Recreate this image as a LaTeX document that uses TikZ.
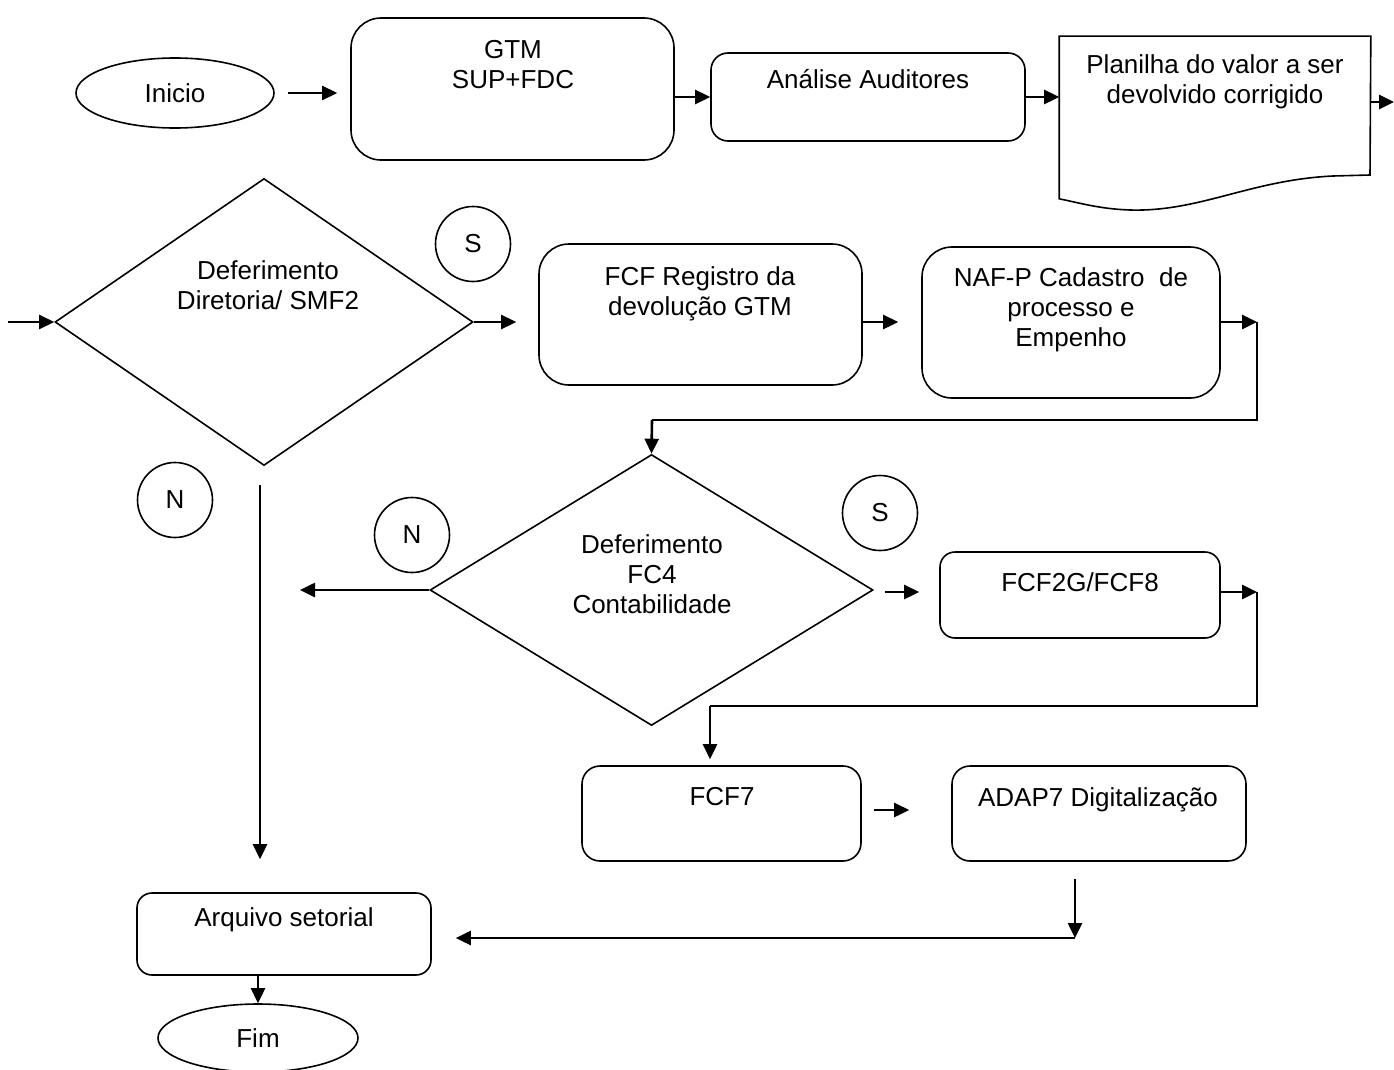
\documentclass[tikz,border=0pt]{standalone}
\usepackage{fontspec}
\setmainfont{Liberation Sans}
\usetikzlibrary{shapes.geometric,arrows.meta}
\tikzset{
  outl/.style={draw, line width=1.6pt},
  box/.style={outl, rectangle, inner sep=0pt},
  oval/.style={outl, ellipse, inner sep=0pt, font=\fontsize{26}{30}\selectfont},
  circ/.style={outl, circle, inner sep=0pt, minimum size=75pt, font=\fontsize{26}{30}\selectfont},
  dia/.style={outl, diamond, inner sep=0pt},
  txt/.style={font=\fontsize{26}{30}\selectfont, align=center, anchor=north, inner sep=0pt},
  arr/.style={line width=2.6pt, -{Triangle[length=15pt,width=14pt]}},
  ln/.style={line width=1.8pt},
}
\begin{document}
\begin{tikzpicture}[x=1pt,y=-1pt]
\useasboundingbox (0,0) rectangle (1394,1070);
% nodes
\node[oval, minimum width=198pt, minimum height=70pt] (inicio) at (175,93) {Inicio};
\node[box, rounded corners=30pt, minimum width=323pt, minimum height=142pt] (gtm) at (512.5,89) {};
\node[txt] (tgtm) at (513,40) {GTM\\SUP+FDC};
\node[box, rounded corners=17pt, minimum width=314pt, minimum height=88pt] (anal) at (868,97) {};
\node[txt] (tanal) at (868,69) {Análise Auditores};
\node[box, draw=none, minimum width=310pt, minimum height=161pt] (plan) at (1215,117.5) {};
\draw[outl] (plan.north west) -- (plan.north east) -- (1370,175) -- (1333,176)
  .. controls (1250,180) and (1200,212) .. (1130,210)
  .. controls (1100,209) and (1080,203) .. (plan.south west) -- cycle;
\node[txt] (tplan) at (1215,54) {Planilha do valor a ser\\devolvido corrigido};

\node[dia, minimum width=418pt, minimum height=287pt] (d1) at (264,322) {};
\node[txt] (td1) at (268,260) {Deferimento\\Diretoria/ SMF2};
\node[circ] (s1) at (473,244) {S};
\node[box, rounded corners=30pt, minimum width=323pt, minimum height=141pt] (freg) at (700.5,314.5) {};
\node[txt] (tfreg) at (700,266) {FCF Registro da\\devolução GTM};
\node[box, rounded corners=30pt, minimum width=298pt, minimum height=151pt] (naf) at (1071,322.5) {};
\node[txt] (tnaf) at (1071,267) {NAF-P Cadastro\ \ de\\processo e\\Empenho};

\node[circ] (n1) at (175,500) {N};
\node[dia, minimum width=443pt, minimum height=271pt] (d2) at (651.5,590) {};
\node[txt] (td2) at (652,534) {Deferimento\\FC4\\Contabilidade};
\node[circ] (n2) at (412,535) {N};
\node[circ] (s2) at (880,513) {S};
\node[box, rounded corners=15pt, minimum width=280pt, minimum height=86pt] (f2g) at (1080,595) {};
\node[txt] (tf2g) at (1080,572) {FCF2G/FCF8};

\node[box, rounded corners=18pt, minimum width=279pt, minimum height=95pt] (f7) at (721.5,813.5) {};
\node[txt] (tf7) at (722,787) {FCF7};
\node[box, rounded corners=18pt, minimum width=294pt, minimum height=95pt] (adap) at (1099,813.5) {};
\node[txt] (tadap) at (1098,787) {ADAP7 Digitalização};

\node[box, rounded corners=15pt, minimum width=294pt, minimum height=82pt] (arq) at (284,934) {};
\node[txt] (tarq) at (284,907) {Arquivo setorial};
\node[oval, minimum width=200pt, minimum height=68pt] (fim) at (258,1038) {Fim};

% helper coordinates
\coordinate (edge) at (1394,102);
\coordinate (lin) at (8,322);
\coordinate (c1) at (1257,322);
\coordinate (c2) at (652,420);
\coordinate (nl) at (300,590);
\coordinate (c3) at (1257,592);
\coordinate (c4) at (710,706);
\coordinate (c5) at (1075,938);
\coordinate (c6) at (260,465);

% connectors
\draw[arr, shorten <=13pt, shorten >=13pt] (inicio.east) -- (gtm.west |- inicio.east);
\draw[arr] (gtm.east |- anal.east) -- (anal.west);
\draw[arr] (anal.east) -- (plan.west |- anal.east);
\draw[arr] (plan.east |- edge) -- (edge);
\draw[arr] (lin) -- (d1.west);
\draw[arr, shorten >=22pt] (d1.east) -- (freg.west |- d1.east);
\draw[arr, shorten >=23pt] (freg.east |- c1) -- (naf.west |- c1);
\draw[arr] (naf.east |- c1) -- (c1);
\draw[ln] (c1) |- (c2);
\draw[arr] (c2) -- (d2.north);
\draw[arr] (d2.west) -- (nl);
\draw[arr, shorten <=11pt, shorten >=20pt] (d2.east |- c3) -- (f2g.west |- c3);
\draw[arr] (f2g.east |- c3) -- (c3);
\draw[ln] (c3) |- (c4);
\draw[arr, shorten >=6pt] (c4) -- (f7.north -| c4);
\draw[arr, shorten <=12pt, shorten >=42pt] (f7.east |- 0,810) -- (adap.west |- 0,810);
\draw[arr, shorten <=17pt] (adap.south -| c5) -- (c5);
\draw[arr, shorten >=24pt] (c5) -- (arq.east |- c5);
\draw[arr, shorten <=20pt, shorten >=33pt] (c6) -- (arq.north -| c6);
\draw[arr] (fim.north |- arq.south) -- (fim.north);
\end{tikzpicture}
\end{document}
